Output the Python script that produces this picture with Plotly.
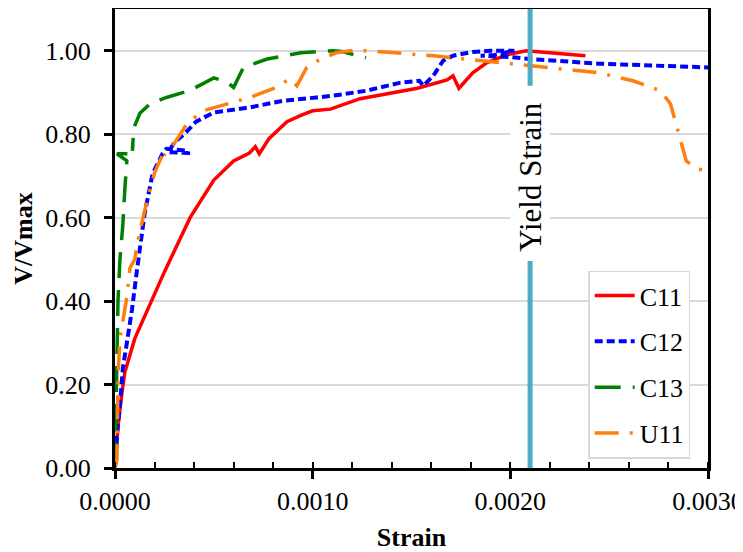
import plotly.graph_objects as go

# ---- data (strain, V/Vmax) ----
c11_strain = [0, 0.000015, 0.000035, 0.00005, 0.0001, 0.000167, 0.00025, 0.00038, 0.0005, 0.0006,
              0.00068, 0.00071, 0.00073, 0.00078, 0.00087, 0.00094, 0.001, 0.00109, 0.00124, 0.00153,
              0.00168, 0.00171, 0.00174, 0.00181, 0.00188, 0.00198, 0.00208, 0.00238]
c11_v = [0, 0.1, 0.18, 0.23, 0.31, 0.38, 0.47, 0.60, 0.69, 0.736,
         0.755, 0.77, 0.753, 0.79, 0.83, 0.845, 0.856, 0.86, 0.885, 0.91,
         0.93, 0.94, 0.91, 0.947, 0.971, 0.99, 1.0, 0.988]

c12_strain = [0, 0.00001, 0.000025, 0.00004, 0.00006, 0.000086, 0.00011, 0.00015, 0.00019, 0.00024,
              0.00026, 0.00037, 0.00037, 0.00027, 0.0003, 0.00035, 0.00041, 0.0005, 0.00068, 0.00085,
              0.00102, 0.0011, 0.00127, 0.00144, 0.00154, 0.00156, 0.00161, 0.00166, 0.00171, 0.00181,
              0.0019, 0.00202, 0.00192, 0.00185, 0.002, 0.0021, 0.00245, 0.00279, 0.003]
c12_v = [0, 0.08, 0.15, 0.24, 0.30, 0.38, 0.47, 0.61, 0.705, 0.753,
         0.765, 0.76, 0.755, 0.757, 0.78, 0.80, 0.83, 0.852, 0.864, 0.88,
         0.888, 0.892, 0.904, 0.923, 0.928, 0.916, 0.94, 0.976, 0.988, 0.997,
         1.0, 1.0, 0.99, 0.988, 0.985, 0.98, 0.969, 0.964, 0.96]

c13_strain = [0, 0.000005, 0.00001, 0.000015, 0.000025, 0.00004, 0.00005, 0.00006, 0.00001, 0.00009,
              0.00009, 0.000088, 0.000095, 0.000126, 0.000177, 0.00026, 0.00038, 0.0005, 0.00057, 0.0006,
              0.00065, 0.00077, 0.00094, 0.0011, 0.00115, 0.00127]
c13_v = [0, 0.12, 0.25, 0.4, 0.5, 0.585, 0.67, 0.736, 0.753, 0.753,
         0.78, 0.76, 0.815, 0.85, 0.873, 0.888, 0.905, 0.935, 0.924, 0.912,
         0.96, 0.98, 0.995, 1.0, 0.998, 0.983]

u11_strain = [0, 0.00001, 0.000015, 0.000025, 0.00006, 0.000076, 0.0001, 0.000116, 0.000142, 0.000167,
              0.000202, 0.000243, 0.000268, 0.00025, 0.000303, 0.000364, 0.000445, 0.000531, 0.000683, 0.0008,
              0.000885, 0.00092, 0.00097, 0.00104, 0.00112, 0.00119, 0.00127, 0.00161, 0.00185, 0.00211,
              0.00245, 0.00262, 0.00276, 0.00281, 0.00286, 0.00289, 0.00294, 0.003]
u11_v = [0, 0.02, 0.215, 0.31, 0.41, 0.48, 0.50, 0.545, 0.60, 0.65,
         0.71, 0.753, 0.757, 0.75, 0.78, 0.825, 0.856, 0.868, 0.888, 0.909,
         0.933, 0.916, 0.96, 0.98, 0.995, 1.0, 1.0, 0.988, 0.976, 0.964,
         0.947, 0.928, 0.904, 0.873, 0.784, 0.736, 0.717, 0.712]

yield_strain = 0.0021
yield_label = "Yield Strain"

x_ticks = [0, 0.001, 0.002, 0.003]
x_tick_labels = ["0.0000", "0.0010", "0.0020", "0.0030"]
y_ticks = [0, 0.2, 0.4, 0.6, 0.8, 1.0]
y_tick_labels = ["0.00", "0.20", "0.40", "0.60", "0.80", "1.00"]

FONT = "Liberation Serif, Times New Roman, serif"

fig = go.Figure()
series = [
    ("C11", c11_strain, c11_v, "#FF0000", "solid", 3.5),
    ("C12", c12_strain, c12_v, "#0000FF", "8px,4px", 4),
    ("C13", c13_strain, c13_v, "#008000", "26px,12px", 3.5),
    ("U11", u11_strain, u11_v, "#FF7F0E", "24px,11px,3px,11px", 3.5),
]
for name, xs, ys, col, dash, w in series:
    fig.add_trace(go.Scatter(x=xs, y=ys, mode="lines", name=name, legendgroup=name,
                             line=dict(color=col, dash=dash, width=w)))

# yield strain line (two segments around label)
fig.add_shape(type="line", x0=yield_strain, x1=yield_strain, y0=0, y1=0.496,
              xref="x", yref="y", line=dict(color="#4BACC6", width=5), layer="above")
fig.add_shape(type="line", x0=yield_strain, x1=yield_strain, y0=0.916, y1=1.1,
              xref="x", yref="y", line=dict(color="#4BACC6", width=5), layer="above")
fig.add_shape(type="rect", x0=yield_strain - 0.0001, x1=yield_strain + 0.0001, y0=0.496, y1=0.916,
              xref="x", yref="y", line=dict(width=0), fillcolor="white", layer="between")
fig.add_annotation(x=yield_strain, y=0.696, xref="x", yref="y", text=yield_label,
                   textangle=-90, showarrow=False, font=dict(family=FONT, size=31, color="black"))

# page body has an 8px margin, so the figure is offset by 8px
fig.update_layout(
    width=743, height=544,
    margin=dict(l=107, r=43, t=1, b=84, autoexpand=False),
    paper_bgcolor="white", plot_bgcolor="white",
    font=dict(family=FONT, size=26, color="black"),
    showlegend=True,
    legend=dict(x=0.97, y=0.43, xanchor="right", yanchor="top",
                bgcolor="white", bordercolor="#D9D9D9", borderwidth=1.5,
                font=dict(family=FONT, size=26, color="black"),
                tracegroupgap=9, itemwidth=40),
)
fig.update_xaxes(
    range=[-1e-9, 0.003 + 1e-9], tickvals=x_ticks, ticktext=x_tick_labels,
    showgrid=False, zeroline=False, automargin=False,
    showline=True, linecolor="black", linewidth=3, mirror=True,
    ticks="outside", ticklen=8, tickwidth=2.5, tickcolor="black",
    minor=dict(dtick=0.0002, ticks="inside", ticklen=6, tickwidth=2, tickcolor="black", showgrid=False),
    ticklabelstandoff=0, ticklabeloverflow="allow",
    title=dict(text="<b>Strain</b>", font=dict(family=FONT, size=26), standoff=14),
)
fig.update_yaxes(
    range=[0, 1.1], tickvals=y_ticks, ticktext=y_tick_labels,
    showgrid=True, gridcolor="#D9D9D9", gridwidth=1.5, zeroline=False, automargin=False,
    showline=True, linecolor="black", linewidth=3, mirror=True,
    ticks="outside", ticklen=8, tickwidth=2.5, tickcolor="black",
    ticklabelstandoff=8,
    title=dict(text="<b>V/Vmax</b>", font=dict(family=FONT, size=26), standoff=6),
)

fig.write_html("out.html")
